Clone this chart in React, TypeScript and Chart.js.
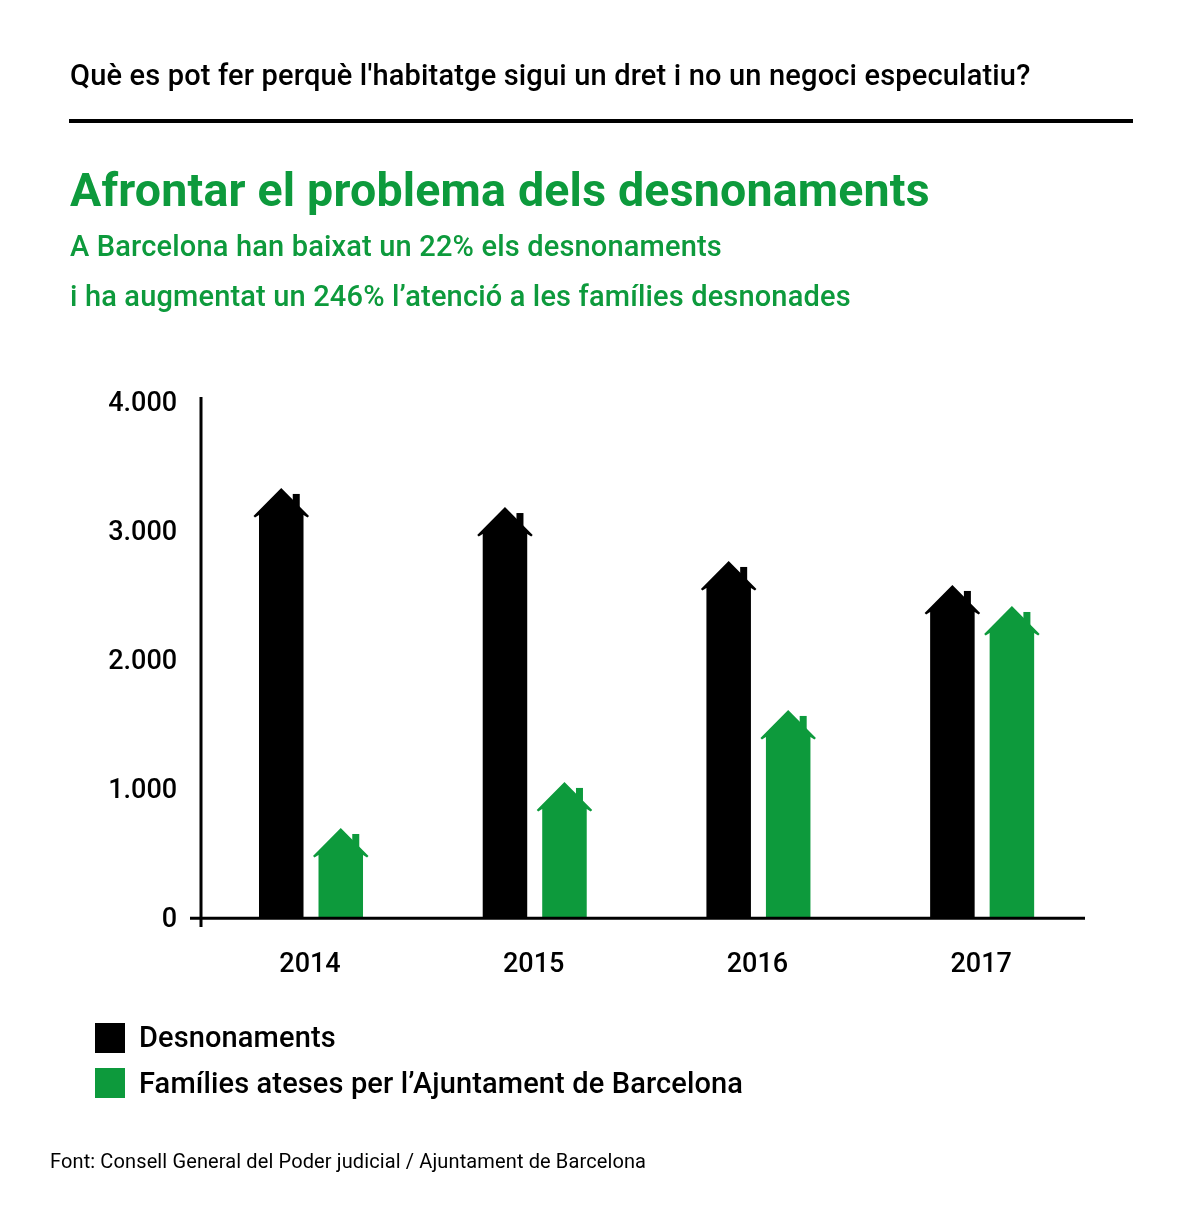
import React, { useEffect, useRef } from "react";
import { Chart, registerables } from "chart.js";

Chart.register(...registerables);

const years = ["2014", "2015", "2016", "2017"];
const desnonaments = [3326, 3178, 2760, 2574];
const families = [690, 1047, 1605, 2411];
const yTicks = ["0", "1.000", "2.000", "3.000", "4.000"];

const BLACK = "#000000";
const GREEN = "#0D9A3C";
const FONT = "Roboto, sans-serif";

const housePlugin = {
  id: "houses",
  beforeDatasetDraw(chart: any, args: any) {
    const { ctx } = chart;
    const meta = args.meta;
    ctx.save();
    meta.data.forEach((bar: any) => {
      const { x, y, base, width } = bar.getProps(["x", "y", "base", "width"], true);
      const half = width / 2;
      const over = 5.5;
      const roofH = 28;
      const eave = y + roofH;
      ctx.fillStyle = bar.options.backgroundColor;
      // body
      ctx.fillRect(x - half, eave - 4, width, base - eave + 4);
      // chimney
      ctx.fillRect(x + 11.5, y + 6, 7, 16);
      // roof
      ctx.beginPath();
      ctx.moveTo(x, y);
      ctx.lineTo(x + half + over, eave);
      ctx.lineTo(x + half + over - 1.5, eave + 1.5);
      ctx.lineTo(x + half, eave - 1);
      ctx.lineTo(x - half, eave - 1);
      ctx.lineTo(x - half - over + 1.5, eave + 1.5);
      ctx.lineTo(x - half - over, eave);
      ctx.closePath();
      ctx.fill();
    });
    ctx.restore();
    return false;
  },
  afterDraw(chart: any) {
    const { ctx, scales } = chart;
    const y0 = scales.y.getPixelForValue(0);
    const yTop = scales.y.getPixelForValue(4000);
    ctx.save();
    ctx.strokeStyle = BLACK;
    ctx.lineWidth = 3;
    ctx.beginPath();
    ctx.moveTo(201, yTop - 4);
    ctx.lineTo(201, y0 + 10);
    ctx.moveTo(190, y0 + 1.3);
    ctx.lineTo(1085, y0 + 1.3);
    ctx.stroke();
    ctx.restore();
  },
};

const text = (
  str: string,
  left: number,
  centerY: number,
  size: number,
  weight: number,
  color: string,
  spacing = 0
) => (
  <div
    style={{
      position: "absolute",
      left,
      top: centerY - 40,
      height: 80,
      lineHeight: "80px",
      fontFamily: FONT,
      fontSize: size,
      fontWeight: weight,
      letterSpacing: spacing,
      color,
      whiteSpace: "nowrap",
    }}
  >
    {str}
  </div>
);

const swatch = (top: number, color: string) => (
  <div style={{ position: "absolute", left: 95, top, width: 30, height: 30, background: color }} />
);

export default function App() {
  const ref = useRef<HTMLCanvasElement>(null);

  useEffect(() => {
    document.body.style.margin = "0";
    document.body.style.background = "#ffffff";
    const chart = new Chart(ref.current as HTMLCanvasElement, {
      type: "bar",
      data: {
        labels: years,
        datasets: [
          { label: "Desnonaments", data: desnonaments, backgroundColor: BLACK },
          { label: "Famílies ateses per l’Ajuntament de Barcelona", data: families, backgroundColor: GREEN },
        ],
      },
      options: {
        animation: false,
        responsive: false,
        devicePixelRatio: 1,
        categoryPercentage: 0.532,
        barPercentage: 0.748,
        layout: { padding: { top: 401, right: 106, bottom: 0, left: 0 } },
        plugins: { legend: { display: false }, title: { display: false }, tooltip: { enabled: false } },
        scales: {
          x: {
            grid: { display: false, drawTicks: false },
            border: { display: false },
            ticks: {
              color: BLACK,
              padding: 32,
              labelOffset: -1,
              maxRotation: 0,
              font: { family: "Roboto", size: 27, weight: 500 },
            },
            afterFit(s: any) {
              s.height = 303;
            },
          },
          y: {
            min: 0,
            max: 4000,
            grid: { display: false, drawTicks: false },
            border: { display: false },
            ticks: {
              stepSize: 1000,
              color: BLACK,
              padding: 22,
              labelOffset: 3,
              font: { family: "Roboto", size: 27, weight: 500 },
              callback: (_v: any, i: number) => yTicks[i],
            },
            afterFit(s: any) {
              s.width = 199.15;
            },
          },
        },
      } as any,
      plugins: [housePlugin as any],
    });
    return () => chart.destroy();
  }, []);

  return (
    <div style={{ position: "relative", width: 1200, height: 1220, background: "#fff", overflow: "hidden" }}>
      <canvas ref={ref} width={1200} height={1220} style={{ position: "absolute", left: 0, top: 0 }} />
      {text("Què es pot fer perquè l'habitatge sigui un dret i no un negoci especulatiu?", 70, 75, 29, 500, BLACK, 0.17)}
      <div style={{ position: "absolute", left: 69, top: 119, width: 1064, height: 4, background: BLACK }} />
      {text("Afrontar el problema dels desnonaments", 70, 190, 46.5, 700, GREEN, 0.2)}
      {text("A Barcelona han baixat un 22% els desnonaments", 70, 246, 29, 500, GREEN, 0.17)}
      {text("i ha augmentat un 246% l’atenció a les famílies desnonades", 70, 296, 29, 500, GREEN, 0.16)}
      {swatch(1023, BLACK)}
      {text("Desnonaments", 139, 1037, 29, 500, BLACK, 0.12)}
      {swatch(1068, GREEN)}
      {text("Famílies ateses per l’Ajuntament de Barcelona", 139, 1083, 29, 500, BLACK, 0.13)}
      {text("Font: Consell General del Poder judicial / Ajuntament de Barcelona", 50, 1161, 20, 400, BLACK, 0.12)}
    </div>
  );
}
